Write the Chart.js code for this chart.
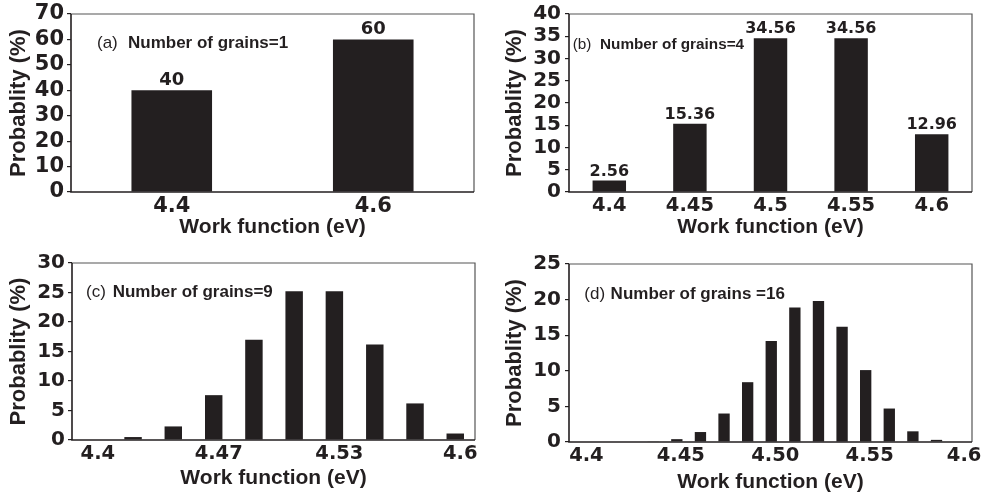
<!DOCTYPE html>
<html>
<head>
<meta charset="utf-8">
<script src="https://cdn.jsdelivr.net/npm/chart.js@4.4.1/dist/chart.umd.min.js"></script>
<style>
html, body { margin: 0; padding: 0; background: #fff; }
.panel { position: absolute; }
</style>
</head>
<body>
<div class="panel" style="left:0;top:0;width:490px;height:250px"><canvas id="chartA"></canvas></div>
<div class="panel" style="left:490px;top:0;width:491px;height:250px"><canvas id="chartB"></canvas></div>
<div class="panel" style="left:0;top:250px;width:490px;height:245px"><canvas id="chartC"></canvas></div>
<div class="panel" style="left:490px;top:250px;width:491px;height:245px"><canvas id="chartD"></canvas></div>
<script>
// ================= DATA =================
const aCats = ["4.4", "4.6"];
const aVals = [40, 60];

const bCats = ["4.4", "4.45", "4.5", "4.55", "4.6"];
const bVals = [2.56, 15.36, 34.56, 34.56, 12.96];

const cX = [4.4, 4.4222, 4.4444, 4.4667, 4.4889, 4.5111, 4.5333, 4.5556, 4.5778, 4.6];
const cVals = [0, 0.5, 2.3, 7.6, 17.0, 25.2, 25.2, 16.2, 6.2, 1.1];
const cTicks = [4.4, 4.4667, 4.5333, 4.6];
const cTickLabels = ["4.4", "4.47", "4.53", "4.6"];

const dX = [4.4, 4.4125, 4.425, 4.4375, 4.45, 4.4625, 4.475, 4.4875, 4.5,
            4.5125, 4.525, 4.5375, 4.55, 4.5625, 4.575, 4.5875, 4.6];
const dVals = [0, 0, 0, 0.1, 0.4, 1.4, 4.0, 8.4, 14.2, 18.9, 19.8, 16.2, 10.1, 4.7, 1.5, 0.3, 0];
const dTicks = [4.4, 4.45, 4.5, 4.55, 4.6];
const dTickLabels = ["4.4", "4.45", "4.50", "4.55", "4.6"];

// ================= STYLE =================
const INK = "#231f20";
const NUM = "'DejaVu Sans'";
const TXT = "'Liberation Sans'";

// ================= PLUGINS =================
// box round the plot area
const framePlugin = {
    id: "frame",
    afterDatasetsDraw(chart){
        const {ctx, chartArea: a} = chart;
        ctx.save();
        ctx.strokeStyle = "#555"; ctx.lineWidth = 1.2;
        ctx.beginPath(); ctx.moveTo(a.left, a.top); ctx.lineTo(a.right, a.top); ctx.lineTo(a.right, a.bottom); ctx.stroke();
        ctx.strokeStyle = INK; ctx.lineWidth = 1.6;
        ctx.beginPath(); ctx.moveTo(a.left, a.top); ctx.lineTo(a.left, a.bottom); ctx.lineTo(a.right, a.bottom); ctx.stroke();
        ctx.restore();
    }
};

// "(x) Number of grains=n" note
const notePlugin = {
    id: "note",
    afterDraw(chart, args, o){
        if(!o || !o.tag) return;
        const {ctx, chartArea: a} = chart;
        const x = a.left + o.dx, y = a.top + o.dy;
        ctx.save();
        ctx.fillStyle = INK;
        ctx.textBaseline = "alphabetic";
        ctx.textAlign = "left";
        ctx.font = `${o.size}px ${TXT}`;
        ctx.fillText(o.tag, x, y);
        ctx.font = `bold ${o.size}px ${TXT}`;
        ctx.fillText(o.text, x + o.textDx, y);
        ctx.restore();
    }
};

// numbers above the bars
const valuePlugin = {
    id: "values",
    afterDatasetsDraw(chart, args, o){
        if(!o || !o.show) return;
        const {ctx} = chart;
        const vals = chart.data.datasets[0].data;
        ctx.save();
        ctx.fillStyle = INK;
        ctx.textAlign = "center";
        ctx.textBaseline = "alphabetic";
        ctx.font = `bold ${o.size}px ${NUM}`;
        chart.getDatasetMeta(0).data.forEach((bar, i) => {
            ctx.fillText(String(vals[i]), bar.x, bar.y - o.gap);
        });
        ctx.restore();
    }
};

// ================= HELPERS =================
function yAxis(max, step, p){
    return {
        min: 0, max: max,
        ticks: {stepSize: step, autoSkip: false, color: INK, padding: p.tickPad,
                font: {family: NUM, weight: "bold", size: p.yTick, lineHeight: 1}},
        grid: {drawOnChartArea: false, drawTicks: true, tickLength: 4, color: INK, lineWidth: 1.2},
        border: {display: false},
        title: {display: true, text: "Probablity (%)", color: INK,
                font: {family: TXT, weight: "bold", size: 22}, padding: {top: p.yTitlePad, bottom: 0}},
        afterFit: s => { s.width = p.yWidth; }
    };
}

function xTitle(p){
    return {display: true, text: "Work function (eV)", color: INK,
            font: {family: TXT, weight: "bold", size: 21}, padding: {top: 0, bottom: p.xTitlePad}};
}

function baseOptions(p){
    return {
        responsive: true,
        maintainAspectRatio: false,
        animation: false,
        layout: {padding: {top: p.top, right: p.right, left: 0, bottom: 0}},
        plugins: {
            legend: {display: false},
            tooltip: {enabled: false},
            note: p.note,
            values: p.values || {show: false}
        }
    };
}

function categoryChart(id, cats, vals, max, step, p){
    const opts = baseOptions(p);
    opts.scales = {
        x: {
            type: "category", offset: true,
            ticks: {color: INK, padding: 2, maxRotation: 0, autoSkip: false, font: {family: NUM, weight: "bold", size: p.xTick}},
            grid: {display: false, drawTicks: false},
            border: {display: false},
            title: xTitle(p),
            afterFit: s => { s.height = p.xHeight; }
        },
        y: yAxis(max, step, p)
    };
    return new Chart(document.getElementById(id), {
        type: "bar",
        data: {labels: cats, datasets: [{data: vals, backgroundColor: INK, borderWidth: 0,
               categoryPercentage: 1, barPercentage: p.barPct}]},
        options: opts,
        plugins: [framePlugin, notePlugin, valuePlugin]
    });
}

function linearChart(id, xs, vals, ticks, tickLabels, max, step, p){
    const opts = baseOptions(p);
    opts.scales = {
        x: {
            type: "linear", min: p.xMin, max: p.xMax, offset: false,
            afterBuildTicks: s => { s.ticks = ticks.map(v => ({value: v})); },
            ticks: {color: INK, padding: 2, maxRotation: 0, autoSkip: false, labelOffset: p.labelOffset,
                    font: {family: NUM, weight: "bold", size: p.xTick},
                    callback: (v, i) => tickLabels[i]},
            grid: {display: false, drawTicks: false},
            border: {display: false},
            title: xTitle(p),
            afterFit: s => { s.height = p.xHeight; }
        },
        y: yAxis(max, step, p)
    };
    return new Chart(document.getElementById(id), {
        type: "bar",
        data: {datasets: [{data: xs.map((x, i) => ({x: x, y: vals[i]})), backgroundColor: INK, borderWidth: 0,
               categoryPercentage: 1, barPercentage: p.barPct}]},
        options: opts,
        plugins: [framePlugin, notePlugin, valuePlugin]
    });
}

// ================= CHARTS =================
categoryChart("chartA", aCats, aVals, 70, 10, {
    top: 14, right: 16, yWidth: 71, xHeight: 58, yTick: 21, xTick: 21, tickPad: 3,
    yTitlePad: 5.5, xTitlePad: 9.7, barPct: 0.40,
    note: {tag: "(a)", text: "Number of grains=1", size: 17, dx: 26, dy: 34.3, textDx: 31},
    values: {show: true, size: 18, gap: 5}
});

categoryChart("chartB", bCats, bVals, 40, 5, {
    top: 14, right: 9, yWidth: 79, xHeight: 58, yTick: 20, xTick: 19.5, tickPad: 4,
    yTitlePad: 12, xTitlePad: 9.7, barPct: 0.415,
    note: {tag: "(b)", text: "Number of grains=4", size: 15.3, dx: 3.7, dy: 35.3, textDx: 27.3},
    values: {show: true, size: 16, gap: 5}
});

linearChart("chartC", cX, cVals, cTicks, cTickLabels, 30, 5, {
    top: 13, right: 15, yWidth: 72, xHeight: 55, yTick: 20, xTick: 19.5, tickPad: 3,
    yTitlePad: 5.5, xTitlePad: 4.2, barPct: 0.434, xMin: 4.3885, xMax: 4.6109, labelOffset: 5,
    note: {tag: "(c)", text: "Number of grains=9", size: 17, dx: 14, dy: 34, textDx: 26.7}
});

linearChart("chartD", dX, dVals, dTicks, dTickLabels, 25, 5, {
    top: 14, right: 9, yWidth: 79, xHeight: 53, yTick: 20, xTick: 19.5, tickPad: 4,
    yTitlePad: 12, xTitlePad: 0.5, barPct: 0.48, xMin: 4.3929, xMax: 4.6063, labelOffset: 4,
    note: {tag: "(d)", text: "Number of grains =16", size: 17, dx: 15.3, dy: 35.3, textDx: 26.3}
});
</script>
</body>
</html>
